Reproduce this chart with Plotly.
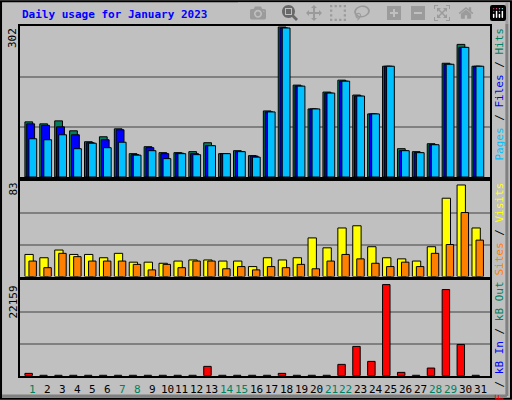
import plotly.graph_objects as go

days = list(range(1, 32))
hits = [111, 107, 113, 93, 71, 81, 97, 47, 61, 49, 49, 51, 69, 47, 53, 43,
        133, 302, 185, 137, 171, 195, 165, 127, 223, 57, 51, 67, 229, 267, 223]
files = [107, 104, 101, 85, 69, 75, 95, 45, 59, 47, 48, 47, 63, 47, 51, 42,
         131, 300, 183, 137, 169, 193, 163, 127, 223, 53, 49, 65, 227, 261, 223]
pages = [77, 75, 85, 57, 68, 59, 70, 44, 53, 37, 47, 45, 63, 47, 51, 40,
         131, 300, 183, 137, 169, 193, 163, 127, 223, 53, 49, 65, 227, 261, 223]
visits = [20, 17, 24, 20, 20, 17, 21, 13, 13, 12, 14, 15, 15, 14, 14, 9,
          17, 15, 17, 35, 26, 44, 46, 27, 17, 16, 14, 27, 71, 83, 44]
sites = [14, 8, 21, 18, 14, 14, 14, 11, 6, 11, 8, 14, 14, 7, 9, 6,
         9, 8, 11, 7, 14, 20, 16, 12, 9, 13, 9, 21, 29, 58, 33]
kb_f = [566, 100, 100, 100, 100, 100, 100, 100, 100, 100, 100, 100, 2265, 100, 100, 100,
        100, 566, 100, 100, 100, 2750, 7120, 3480, 22159, 809, 100, 1860, 20950, 7600, 100]
weekend = [1, 7, 8, 14, 15, 21, 22, 28, 29]

W, H = 512, 400
LEFT, RIGHT = 20, 490


def py(px):
    return 1 - px / H


fig = go.Figure()
line = dict(color='black', width=1)


def bars(y, color, off, width, ax):
    fig.add_trace(go.Bar(x=days, y=y, marker=dict(color=color, line=line),
                         offset=off, width=width, xaxis='x' + ax, yaxis='y' + ax))


bars(hits, '#00805C', -0.54, 0.52, '')
bars(files, '#0000FF', -0.42, 0.53, '')
bars(pages, '#00C0FF', -0.27, 0.52, '')
bars(visits, '#FFFF00', -0.54, 0.56, '2')
bars(sites, '#FF8000', -0.27, 0.5, '2')
bars(kb_f, '#FF0000', -0.54, 0.5, '3')

xr = [0.13, 31.67]
dom_x = [LEFT / W, RIGHT / W]
panels = [('', 26, 177, 302), ('2', 181, 276.5, 83 * 96 / 92), ('3', 280, 375.7, 22159 * 96 / 91.4)]
lay = {}
for ax, top, bot, ymax in panels:
    lay['xaxis' + ax] = dict(domain=dom_x, range=xr, showticklabels=False, showgrid=False,
                             zeroline=False, showline=True, mirror=True, linecolor='black',
                             linewidth=2, ticks='', anchor='y' + ax)
    lay['yaxis' + ax] = dict(domain=[py(bot), py(top)], range=[0, ymax],
                             tickvals=[ymax / 3, 2 * ymax / 3] if ax else [302 / 3, 604 / 3],
                             showticklabels=False, gridcolor='#808080', gridwidth=1.5,
                             zeroline=False, showline=True, mirror=True, linecolor='black',
                             linewidth=2, anchor='x' + ax)
lay['yaxis']['range'] = [0, 302 * 151 / 150]

font = dict(family='DejaVu Sans Mono', size=11, color='black')
ann = [
    dict(text='<b>Daily usage for January 2023</b>', x=LEFT / W, y=py(15), xref='paper',
         yref='paper', xanchor='left', yanchor='middle', showarrow=False,
         font=dict(family='DejaVu Sans Mono', size=11, color='#0000FF')),
]
for txt, top in [('302', 26), ('83', 181), ('22159', 284)]:
    ann.append(dict(text=txt, x=13 / W, y=py(top), xref='paper', yref='paper', textangle=-90,
                    xanchor='center', yanchor='top', showarrow=False, font=font))
sides = [
    ("<span style='color:#00C0FF'>Pages</span> / <span style='color:#0000FF'>Files</span>"
     " / <span style='color:#00805C'>Hits</span>", 26),
    ("<span style='color:#FF8000'>Sites</span> / <span style='color:#FFFF00'>Visits</span>", 181),
    ("<span style='color:#FF0000'>kB F</span> / <span style='color:#0000FF'>kB In</span>"
     " / <span style='color:#00805C'>kB Out</span>", 280),
]
for txt, top in sides:
    ann.append(dict(text=txt, x=499 / W, y=py(top), xref='paper', yref='paper', textangle=-90,
                    xanchor='center', yanchor='top', showarrow=False, font=font))
for d in days:
    ann.append(dict(text=str(d), x=d, y=py(389), xref='x3', yref='paper', showarrow=False,
                    yanchor='middle',
                    font=dict(family='DejaVu Sans Mono', size=11,
                              color='#00805C' if d in weekend else 'black')))

fig.update_layout(
    width=W, height=H, margin=dict(l=0, r=0, t=0, b=0), autosize=False,
    paper_bgcolor='#C0C0C0', plot_bgcolor='#C0C0C0', showlegend=False,
    barmode='overlay', annotations=ann, **lay,
    shapes=[dict(type='rect', xref='paper', yref='paper', x0=0.002, y0=0.003, x1=0.998, y1=0.997,
                 line=dict(color='black', width=2)),
            dict(type='line', xref='paper', yref='paper', x0=0.004, y0=0.01, x1=0.99, y1=0.01,
                 line=dict(color='#808080', width=3)),
            dict(type='line', xref='paper', yref='paper', x0=0.99, y0=0.01, x1=0.99, y1=0.995,
                 line=dict(color='#808080', width=3))],
)
fig.write_html('out.html', post_script="document.body.style.margin='0';")
